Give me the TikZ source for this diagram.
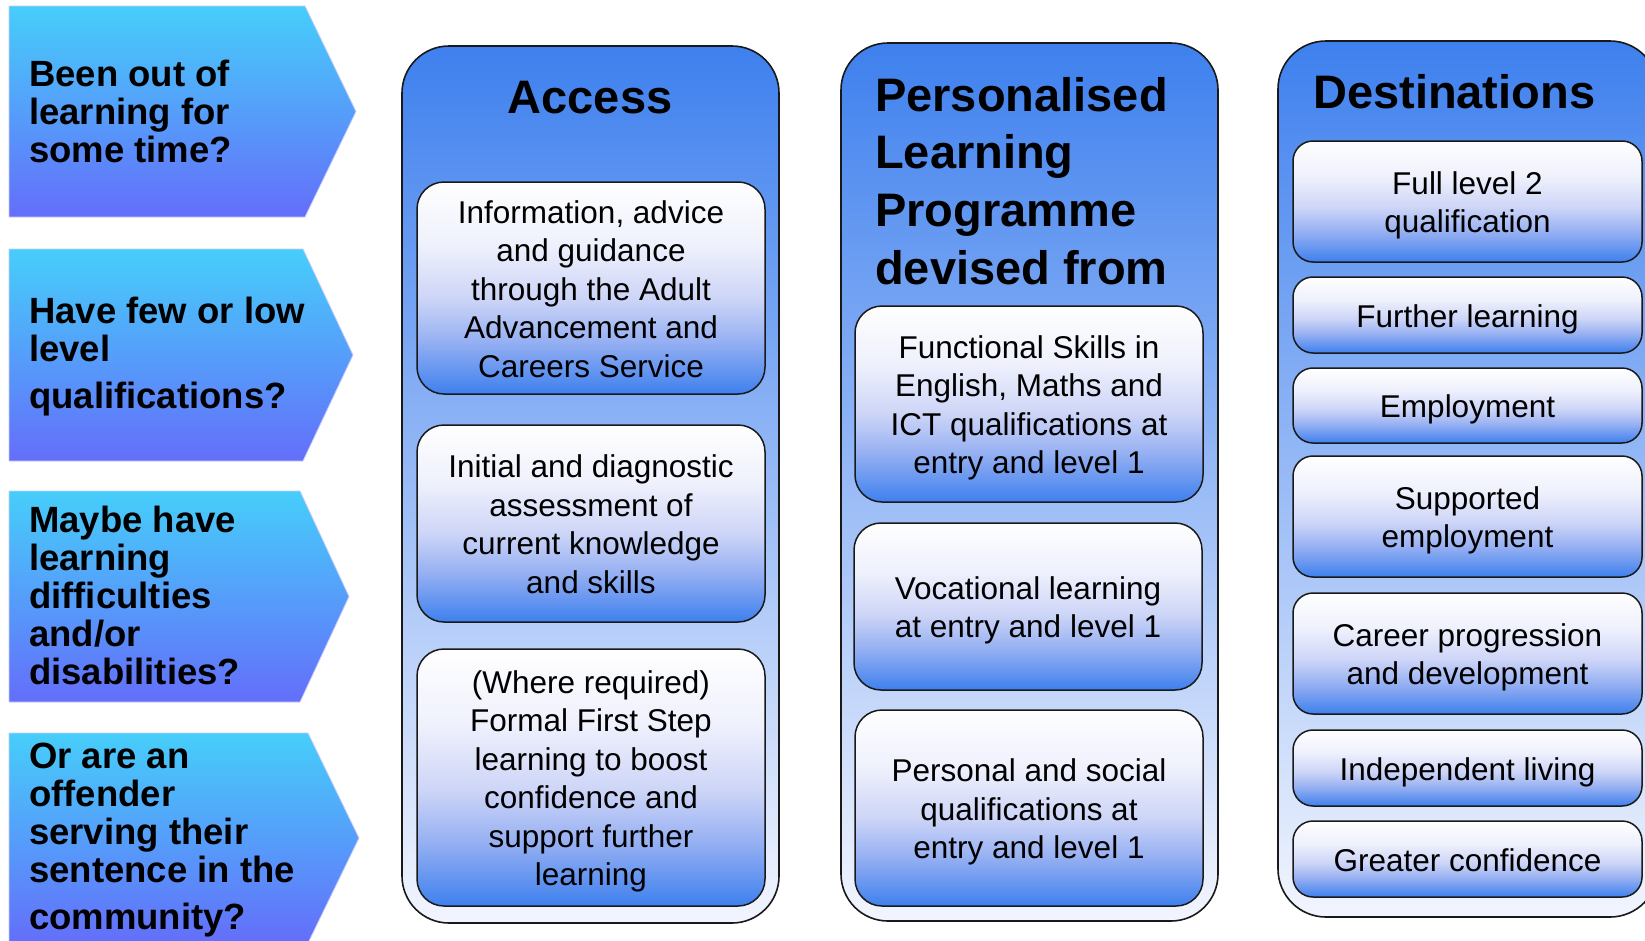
\documentclass[tikz,border=0pt]{standalone}
\usepackage{fontspec}
\setmainfont{Liberation Sans}
\definecolor{chevtop}{RGB}{70,206,250}
\definecolor{chevbot}{RGB}{100,110,250}
\definecolor{colblue}{RGB}{62,128,238}
\definecolor{colpale}{RGB}{242,245,254}
\definecolor{innmidA}{RGB}{150,176,242}
\definecolor{innmidB}{RGB}{205,213,247}
\definecolor{innmidC}{RGB}{238,240,252}
\pgfdeclareverticalshading{innershade}{100bp}{color(0bp)=(colblue); color(25bp)=(colblue); color(37.5bp)=(innmidA); color(47.5bp)=(innmidB); color(60bp)=(innmidC); color(75bp)=(white); color(100bp)=(white)}
\newcommand{\firstln}{\rule{0pt}{31pt}}
\tikzset{
 chev/.style={top color=chevtop, bottom color=chevbot, draw=chevbot!35!white, line width=0.8pt},
 chevtext/.style={anchor=west, inner sep=0pt, align=left, font=\bfseries\fontsize{36.5}{38}\selectfont},
 column/.style={rounded corners=47pt, draw=black!90, line width=1.6pt, top color=colblue, bottom color=colpale, inner sep=0pt},
 inbox/.style={draw=black!90, line width=1.5pt, rounded corners=27pt, shade, shading=innershade, align=center, inner sep=0pt, font=\fontsize{31.5}{38.5}\selectfont,
   execute at end node={\rule[-7pt]{0pt}{7pt}}},
 destbox/.style={inbox, rounded corners=20pt, minimum width=349pt},
 coltitle/.style={inner sep=0pt, font=\bfseries\fontsize{47}{57.7}\selectfont},
}
\begin{document}
\begin{tikzpicture}[x=1pt,y=-1pt]
\clip (0,0) rectangle (1645,940);
\fill[white] (0,0) rectangle (1645,940);
% left chevrons
\shade[chev] (9,6) -- (305,6) -- (356,111.5) -- (305,217) -- (9,217) -- cycle;
\shade[chev] (9,249) -- (303,249) -- (353,355) -- (303,461) -- (9,461) -- cycle;
\shade[chev] (9,491) -- (300,491) -- (349,596.5) -- (300,702) -- (9,702) -- cycle;
\shade[chev] (9,733) -- (308,733) -- (359,838) -- (308,943) -- (9,943) -- cycle;
\node[chevtext] (q1) at (29,111) {Been out of\\learning for\\some time?};
\node[chevtext] (q2) at (29,357) {Have few or low\\level\\[9pt]qualifications?};
\node[chevtext] (q3) at (29,595) {Maybe have\\learning\\difficulties\\and/or\\disabilities?};
\node[chevtext] (q4) at (29,840.5) {Or are an\\offender\\serving their\\sentence in the\\[9pt]community?};
% columns
\node[column, minimum width=377pt, minimum height=877pt] (colA) at (590.5,484.5) {};
\node[column, minimum width=377pt, minimum height=878pt] (colP) at (1029.5,482) {};
\node[column, rounded corners=48pt, minimum width=380pt, minimum height=876pt] (colD) at (1468,479) {};
% titles
\node[coltitle, anchor=base] (tA) at (590,113) {Access};
\node[coltitle, anchor=west, align=left] (tP) at (875,181) {Personalised\\Learning\\Programme\\devised from};
\node[coltitle, anchor=base west] (tD) at (1313,108) {Destinations};
% access boxes
\node[inbox, minimum width=348pt, minimum height=212pt] (a1) at (591,288) {\firstln Information, advice\\and guidance\\through the Adult\\Advancement and\\Careers Service};
\node[inbox, minimum width=348pt, minimum height=197pt] (a2) at (591,523.5) {\firstln Initial and diagnostic\\assessment of\\current knowledge\\and skills};
\node[inbox, minimum width=348pt, minimum height=257pt] (a3) at (591,777.5) {\firstln(Where required)\\Formal First Step\\learning to boost\\confidence and\\support further\\learning};
% personalised boxes
\node[inbox, minimum width=348pt, minimum height=196pt] (p1) at (1029,404) {\firstln Functional Skills in\\English, Maths and\\ICT qualifications at\\entry and level 1};
\node[inbox, minimum width=348pt, minimum height=167pt] (p2) at (1028,606.5) {\firstln Vocational learning\\at entry and level 1};
\node[inbox, minimum width=348pt, minimum height=196pt] (p3) at (1029,808) {\firstln Personal and social\\qualifications at\\entry and level 1};
% destination boxes
\node[destbox, minimum height=121pt] (d1) at (1467.5,201.5) {\firstln Full level 2\\qualification};
\node[destbox, minimum height=76pt] (d2) at (1467.5,315) {\firstln Further learning};
\node[destbox, minimum height=75pt] (d3) at (1467.5,405.5) {\firstln Employment};
\node[destbox, minimum height=121pt] (d4) at (1467.5,516.5) {\firstln Supported\\employment};
\node[destbox, minimum height=121pt] (d5) at (1467.5,653.5) {\firstln Career progression\\and development};
\node[destbox, minimum height=76pt] (d6) at (1467.5,768) {\firstln Independent living};
\node[destbox, minimum height=76pt] (d7) at (1467.5,859) {\firstln Greater confidence};
\end{tikzpicture}
\end{document}
